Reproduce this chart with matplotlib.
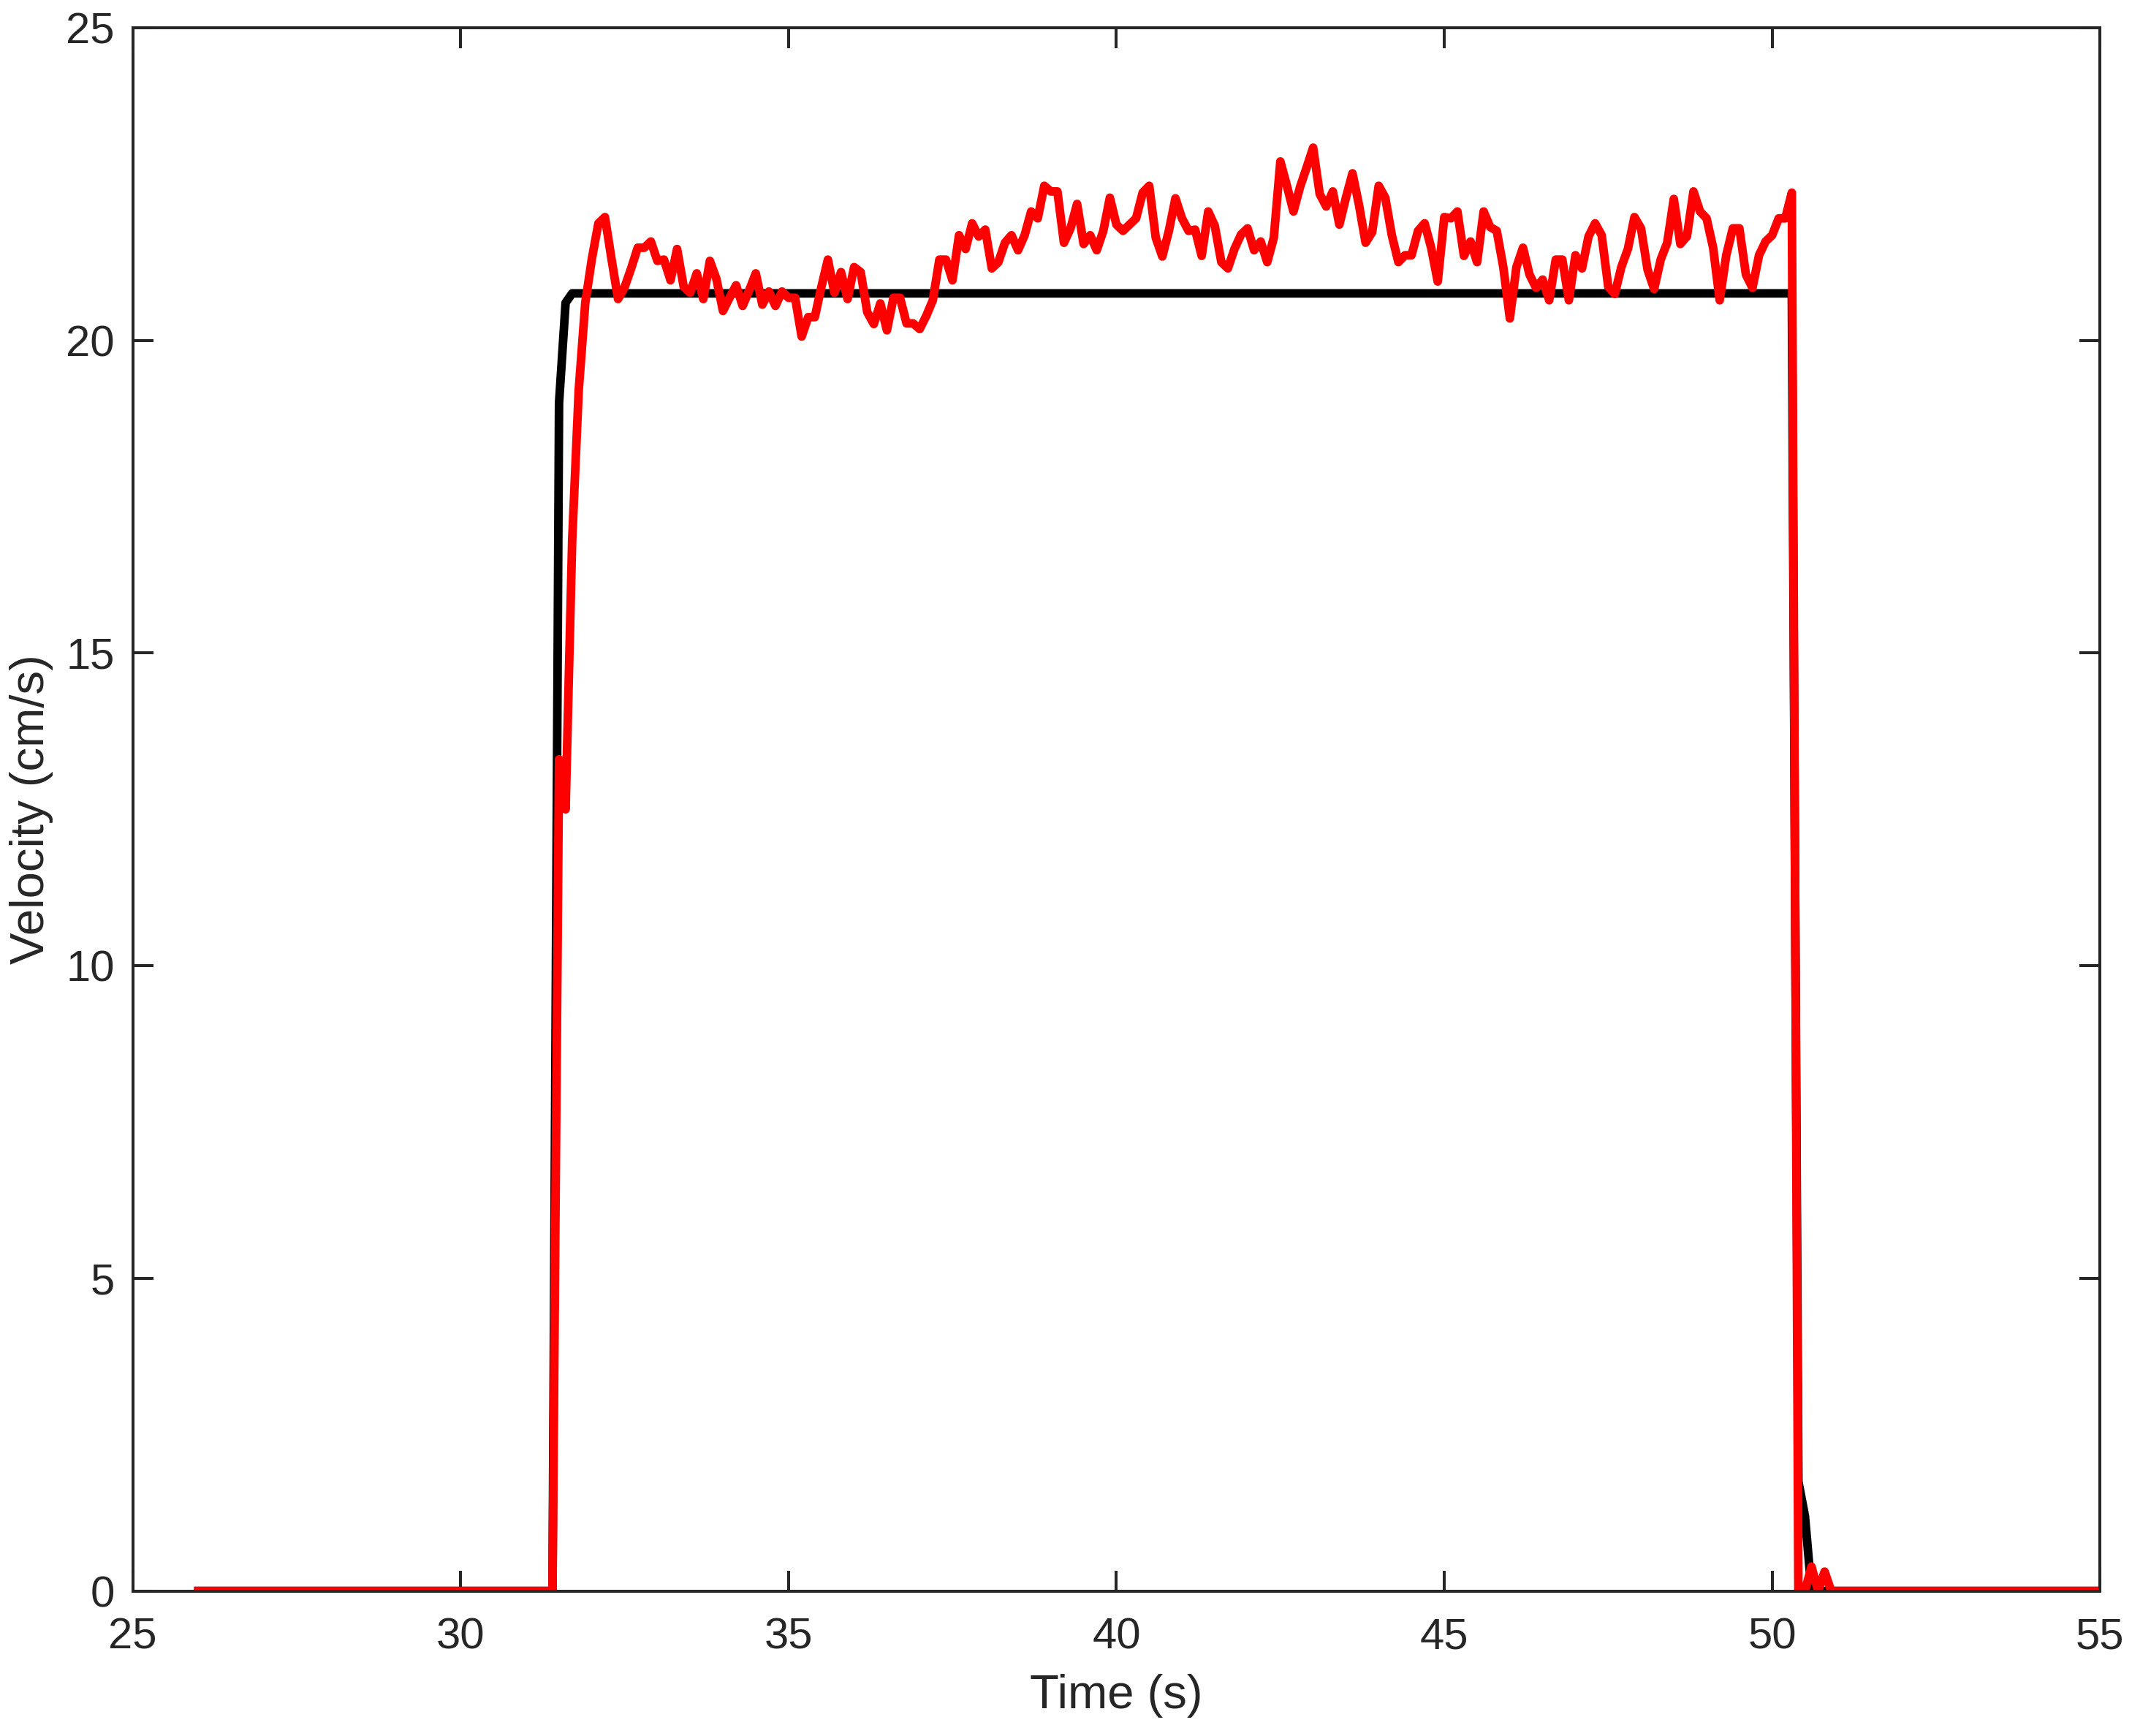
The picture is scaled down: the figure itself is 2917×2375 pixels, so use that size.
import numpy as np
import matplotlib
matplotlib.use("Agg")
import matplotlib.pyplot as plt

# reference (commanded) velocity profile
ref_time = [26.0, 31.4, 31.5, 31.6, 31.7, 50.3, 50.4, 50.5, 50.6, 55.0]
ref_vel = [0, 0, 19.0, 20.6, 20.75, 20.75, 1.75, 1.2, 0, 0]

# measured velocity, sampled every 0.1 s starting at 31.4 s
meas_start = 31.4
meas_dt = 0.1
meas_vel = [
    0, 13.3, 12.5, 16.8, 19.2, 20.6,                                        # 31.4-31.9
    21.3, 21.87, 21.97, 21.3, 20.66, 20.85, 21.15, 21.48, 21.48, 21.58,     # 32
    21.27, 21.29, 20.96, 21.46, 20.86, 20.76, 21.07, 20.66, 21.27, 20.98,   # 33
    20.47, 20.68, 20.88, 20.55, 20.8, 21.07, 20.57, 20.78, 20.55, 20.78,    # 34
    20.68, 20.68, 20.06, 20.37, 20.37, 20.85, 21.29, 20.76, 21.09, 20.66,   # 35
    21.17, 21.09, 20.45, 20.26, 20.59, 20.16, 20.68, 20.68, 20.27, 20.27,   # 36
    20.18, 20.39, 20.64, 21.29, 21.29, 20.96, 21.68, 21.46, 21.87, 21.66,   # 37
    21.77, 21.15, 21.25, 21.56, 21.68, 21.44, 21.68, 22.06, 21.95, 22.47,   # 38
    22.38, 22.38, 21.56, 21.79, 22.18, 21.54, 21.68, 21.44, 21.75, 22.28,   # 39
    21.85, 21.75, 21.85, 21.95, 22.36, 22.47, 21.64, 21.34, 21.75, 22.27,   # 40
    21.95, 21.75, 21.77, 21.35, 22.06, 21.83, 21.25, 21.15, 21.46, 21.69,   # 41
    21.79, 21.44, 21.58, 21.25, 21.64, 22.86, 22.47, 22.06, 22.45, 22.76,   # 42
    23.08, 22.34, 22.14, 22.38, 21.85, 22.28, 22.67, 22.16, 21.56, 21.73,   # 43
    22.47, 22.28, 21.68, 21.25, 21.36, 21.36, 21.75, 21.87, 21.48, 20.94,   # 44
    21.97, 21.95, 22.06, 21.35, 21.58, 21.25, 22.06, 21.81, 21.75, 21.17,   # 45
    20.35, 21.17, 21.48, 21.05, 20.84, 20.97, 20.64, 21.29, 21.29, 20.64,   # 46
    21.36, 21.15, 21.66, 21.87, 21.68, 20.86, 20.74, 21.17, 21.46, 21.97,   # 47
    21.79, 21.13, 20.82, 21.29, 21.56, 22.26, 21.54, 21.66, 22.38, 22.06,   # 48
    21.95, 21.48, 20.64, 21.36, 21.79, 21.79, 21.05, 20.84, 21.36, 21.58,   # 49
    21.68, 21.95, 21.95, 22.36, 0, 0, 0.39, 0, 0.31, 0,                     # 50
]

meas_time = np.round(meas_start + meas_dt * np.arange(len(meas_vel)), 1)
# flat zero lead-in and tail
meas_time = np.concatenate([[26.0], meas_time, [55.0]])
meas_vel = np.concatenate([[0], meas_vel, [0]])

plt.rcParams['font.family'] = ['Liberation Sans', 'DejaVu Sans']
dark = '#262626'

fig = plt.figure(figsize=(29.17, 23.75), dpi=100)
ax = fig.add_axes([0.0623, 0.0835, 0.9227, 0.9006])

ax.plot(ref_time, ref_vel, color='black', linewidth=8.5, solid_joinstyle='round')
ax.plot(meas_time, meas_vel, color='red', linewidth=8.5, solid_joinstyle='round')

ax.set_xlim(25, 55)
ax.set_ylim(0, 25)
ax.set_xticks(np.arange(25, 56, 5))
ax.set_yticks(np.arange(0, 26, 5))

for s in ax.spines.values():
    s.set_linewidth(2.9)
    s.set_color(dark)
ax.tick_params(direction='in', length=20, width=2.9, colors=dark,
               labelsize=43, top=True, right=True)
ax.tick_params(axis='x', pad=26)
ax.tick_params(axis='y', pad=18)

ax.set_xlabel('Time (s)', fontsize=47, color=dark, labelpad=16)
ax.set_ylabel('Velocity (cm/s)', fontsize=47, color=dark, labelpad=12)

fig.savefig('out.png', dpi=100)
